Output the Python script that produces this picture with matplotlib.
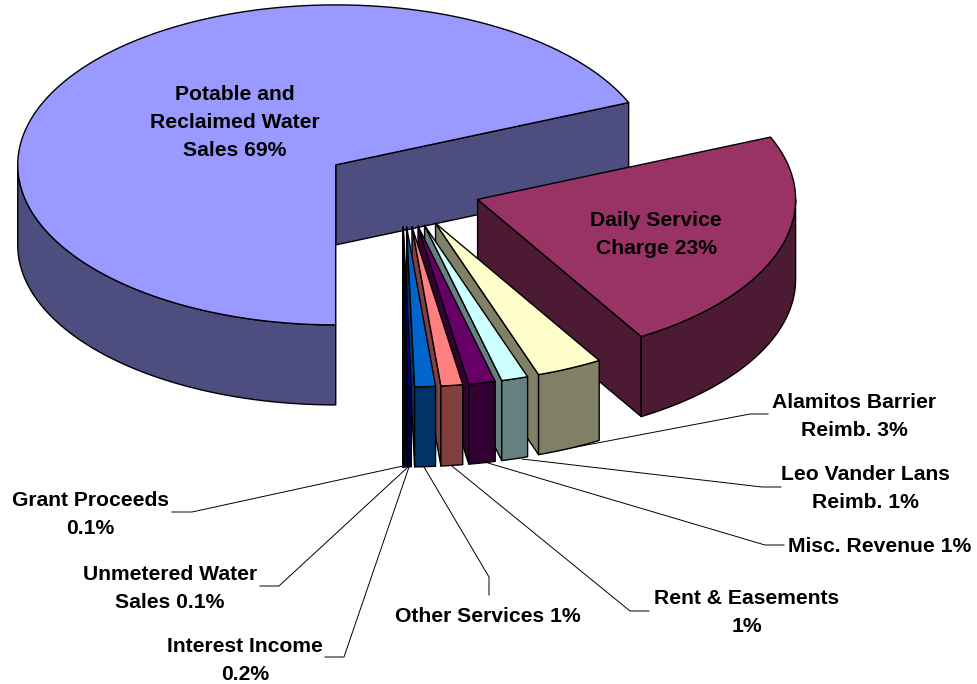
import numpy as np
import matplotlib
matplotlib.use("Agg")
import matplotlib.pyplot as plt
from matplotlib.patches import Polygon

plt.rcParams['font.family'] = ['Liberation Sans', 'DejaVu Sans']

# Ingresos por categoria (%), en sentido horario desde la porcion mayor
names = ["Potable and\nReclaimed Water\nSales", "Daily Service\nCharge",
         "Alamitos Barrier\nReimb.", "Leo Vander Lans\nReimb.", "Misc. Revenue",
         "Rent & Easements\n", "Other Services", "Interest Income\n",
         "Unmetered Water\nSales", "Grant Proceeds\n"]
values = [68.6, 22.75, 3.35, 1.35, 1.35, 1.1, 1.05, 0.2, 0.1, 0.1]

top_colors = ["#9999FF", "#993366", "#FFFFCC", "#CCFFFF", "#660066",
              "#FF8080", "#0066CC", "#000080", "#000080", "#000080"]
side_colors = ["#4D4D80", "#4D1A33", "#808066", "#668080", "#330033",
               "#804040", "#003366", "#000040", "#000040", "#000040"]

# Posicion de cada rotulo: centro del texto y, si tiene, su linea guia
label_pos = [(235, 123), (656, 234), (854, 417), (865, 489), (880, 547),
             (747, 613), (488, 617), (245, 660), (170, 588), (90, 515)]
leaders = [None, None,
           [(555, 451), (750, 414), (768, 414)],
           [(522, 459), (762, 487), (781, 487)],
           [(488, 463), (765, 545), (784, 545)],
           [(452, 466), (630, 611), (649, 611)],
           [(424, 467), (489, 577), (489, 595)],
           [(409, 467), (344, 657), (325, 657)],
           [(408, 467), (279, 586), (260, 586)],
           [(403, 466), (192, 512), (172, 512)]]

cx, cy = 402, 187
rx, ry = 318, 160
depth = 80
explode = 0.25
start_angle = 270


def point(a, ox, oy):
    return ox + rx * np.cos(a), oy - ry * np.sin(a)


def format_label(name, v):
    txt = f"{v:.0f}%" if v >= 1 else f"{v:.1f}%"
    return name + txt if name.endswith("\n") else name + " " + txt


def draw_slice(ax, a_ccw, a_cw, top, side, lw):
    # a_ccw > a_cw, la porcion va de a_cw a a_ccw en sentido antihorario
    mid = (a_ccw + a_cw) / 2
    ox = cx + explode * rx * np.cos(mid)
    oy = cy - explode * ry * np.sin(mid)
    kw = dict(edgecolor="black", linewidth=lw, joinstyle="round", zorder=3)

    # Caras radiales visibles
    for a, visible in ((a_cw, np.cos(a_cw) > 1e-6), (a_ccw, np.cos(a_ccw) < -1e-6)):
        if visible:
            px, py = point(a, ox, oy)
            ax.add_patch(Polygon([(ox, oy), (px, py), (px, py + depth), (ox, oy + depth)],
                                 facecolor=side, **kw))

    # Borde exterior, solo la parte que mira hacia abajo
    turns = np.arange(-2, 2) * 2 * np.pi
    for k in turns:
        lo = max(a_cw, np.pi + k)
        hi = min(a_ccw, 2 * np.pi + k)
        if hi > lo:
            t = np.linspace(lo, hi, 120)
            xs, ys = point(t, ox, oy)
            pts = list(zip(xs, ys)) + list(zip(xs[::-1], ys[::-1] + depth))
            ax.add_patch(Polygon(pts, facecolor=side, **kw))

    # Cara superior
    t = np.linspace(a_cw, a_ccw, 300)
    xs, ys = point(t, ox, oy)
    ax.add_patch(Polygon([(ox, oy)] + list(zip(xs, ys)), facecolor=top, **kw))


fig = plt.figure(figsize=(9.78, 6.84), dpi=100)
ax = fig.add_axes([0, 0, 1, 1])
ax.set_xlim(0, 978)
ax.set_ylim(684, 0)
ax.axis("off")

fractions = np.array(values) / sum(values) * 2 * np.pi
a = np.radians(start_angle)
for i, frac in enumerate(fractions):
    # Las porciones finisimas llevan un trazo mas delgado para que se vea el color
    draw_slice(ax, a, a - frac, top_colors[i], side_colors[i], 1.0 if values[i] >= 1 else 0.7)
    a -= frac

for i, name in enumerate(names):
    x, y = label_pos[i]
    ax.text(x, y, format_label(name, values[i]), ha="center", va="center", fontsize=15.2,
            fontweight="bold", color="black", linespacing=1.6, zorder=5)
    if leaders[i]:
        xs, ys = zip(*leaders[i])
        ax.plot(xs, ys, color="black", linewidth=0.7, zorder=1)

fig.savefig("out.png", dpi=100)
